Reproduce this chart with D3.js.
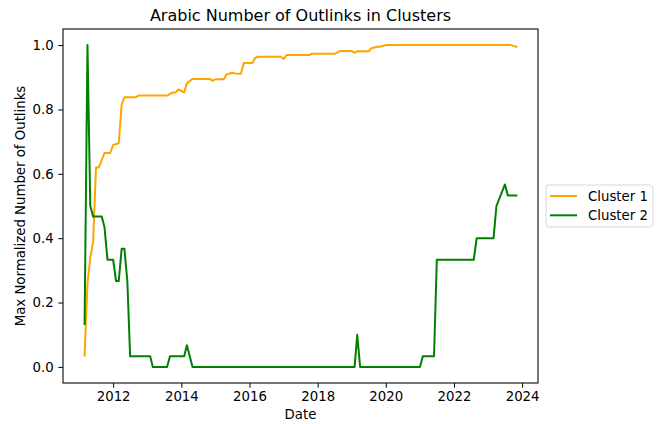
<!DOCTYPE html>
<html>
<head>
<meta charset="utf-8">
<script src="https://cdn.jsdelivr.net/npm/d3@7"></script>
<style>
  body { margin: 0; background: #fff; }
  text { font-family: "DejaVu Sans", sans-serif; fill: #000; }
</style>
</head>
<body>
<div id="chart"></div>
<script>
// Measurement
var w = 660, h = 424;
var margin = { top: 29, right: 122, bottom: 41, left: 63 };

// Data (monthly breakpoints)
var c1Dates = ["2011-03","2011-04","2011-05","2011-06","2011-07","2011-08","2011-10","2011-12",
  "2012-01","2012-03","2012-04","2012-05","2012-09","2012-10","2013-08","2013-10","2013-11","2013-12",
  "2014-02","2014-03","2014-05","2014-11","2014-12","2015-01","2015-04","2015-05","2015-07","2015-08",
  "2015-10","2015-11","2016-02","2016-03","2016-04","2016-12","2017-01","2017-02","2017-10","2017-11",
  "2018-07","2018-09","2019-01","2019-02","2019-03","2019-07","2019-08","2019-10","2019-11","2020-01",
  "2023-09","2023-11"];
var c1Values = [0.035,0.26,0.34,0.39,0.62,0.62,0.665,0.665,
  0.69,0.695,0.814,0.838,0.838,0.843,0.843,0.853,0.853,0.862,
  0.853,0.881,0.895,0.895,0.889,0.894,0.894,0.909,0.914,0.912,
  0.911,0.944,0.944,0.96,0.964,0.964,0.957,0.969,0.969,0.973,
  0.973,0.982,0.982,0.976,0.981,0.981,0.99,0.995,0.995,1.0,
  1.0,0.995];

var c2Dates = ["2011-03","2011-04","2011-05","2011-06","2011-09","2011-10","2011-11","2012-01",
  "2012-02","2012-03","2012-04","2012-05","2012-06","2012-07","2013-02","2013-03","2013-08","2013-09",
  "2014-02","2014-03","2014-05","2019-02","2019-03","2019-04","2021-01","2021-02","2021-06","2021-07",
  "2022-08","2022-09","2023-03","2023-04","2023-07","2023-08","2023-11"];
var c2Values = [0.133,1.0,0.5,0.467,0.467,0.433,0.333,0.333,
  0.267,0.267,0.367,0.367,0.267,0.033,0.033,0,0,0.033,
  0.033,0.067,0,0,0.1,0,0,0.033,0.033,0.333,
  0.333,0.4,0.4,0.5,0.567,0.533,0.533];

var seriesNames = ["Cluster 1", "Cluster 2"];
var seriesColors = ["orange", "green"];
var xTickYears = [2012, 2014, 2016, 2018, 2020, 2022, 2024];
var yTickValues = [0, 0.2, 0.4, 0.6, 0.8, 1.0];

var parseMonth = d3.timeParse("%Y-%m");
function zipSeries(dates, values) {
  return dates.map(function(d, i) { return { date: parseMonth(d), value: values[i] }; });
}
var series = [zipSeries(c1Dates, c1Values), zipSeries(c2Dates, c2Values)];

// SVG Container
var svg = d3.select("#chart")
  .append("svg")
  .attr("width", w)
  .attr("height", h);

// Scaling (matplotlib-like 5% margins)
var allDates = series[0].concat(series[1]).map(function(d) { return d.date; });
var t0 = d3.min(allDates).getTime(), t1 = d3.max(allDates).getTime();
var pad = (t1 - t0) * 0.05;
var xScale = d3.scaleTime()
  .domain([new Date(t0 - pad), new Date(t1 + pad)])
  .range([margin.left, w - margin.right]);
var yScale = d3.scaleLinear()
  .domain([-0.05, 1.05])
  .range([h - margin.bottom, margin.top]);

// Axis
var xAxis = d3.axisBottom(xScale)
  .tickValues(xTickYears.map(function(y) { return new Date(y, 0, 1); }))
  .tickFormat(d3.timeFormat("%Y"))
  .tickSizeInner(4.7)
  .tickSizeOuter(0)
  .tickPadding(4);
var yAxis = d3.axisLeft(yScale)
  .tickValues(yTickValues)
  .tickFormat(d3.format(".1f"))
  .tickSizeInner(4.7)
  .tickSizeOuter(0)
  .tickPadding(4.7);

var gx = svg.append("g")
  .attr("transform", "translate(0," + (h - margin.bottom) + ")")
  .call(xAxis);
var gy = svg.append("g")
  .attr("transform", "translate(" + margin.left + ",0)")
  .call(yAxis);
[gx, gy].forEach(function(g) {
  g.select(".domain").remove();
  g.selectAll(".tick line").attr("stroke", "#000").attr("stroke-width", 1);
  g.selectAll(".tick text").attr("font-size", 13.3).attr("font-family", "DejaVu Sans").attr("fill", "#000");
});

// Lines
var line = d3.line()
  .x(function(d) { return xScale(d.date); })
  .y(function(d) { return yScale(d.value); });

svg.selectAll(".series")
  .data(series)
  .enter()
  .append("path")
  .attr("class", "series")
  .attr("d", line)
  .attr("fill", "none")
  .attr("stroke", function(d, i) { return seriesColors[i]; })
  .attr("stroke-width", 2)
  .attr("stroke-linejoin", "round")
  .attr("stroke-linecap", "square");

// Frame
svg.append("rect")
  .attr("x", margin.left)
  .attr("y", margin.top)
  .attr("width", w - margin.left - margin.right)
  .attr("height", h - margin.top - margin.bottom)
  .attr("fill", "none")
  .attr("stroke", "#000")
  .attr("stroke-width", 1.07);

// Titles
var cx = (margin.left + w - margin.right) / 2;
svg.append("text")
  .attr("x", cx)
  .attr("y", 21)
  .attr("text-anchor", "middle")
  .attr("font-size", 16)
  .text("Arabic Number of Outlinks in Clusters");

svg.append("text")
  .attr("x", cx)
  .attr("y", 419)
  .attr("text-anchor", "middle")
  .attr("font-size", 13.3)
  .text("Date");

svg.append("text")
  .attr("transform", "translate(25," + ((margin.top + h - margin.bottom) / 2) + ") rotate(-90)")
  .attr("text-anchor", "middle")
  .attr("font-size", 13.3)
  .text("Max Normalized Number of Outlinks");

// Legend
var legend = svg.append("g").attr("transform", "translate(546,185)");
legend.append("rect")
  .attr("width", 107)
  .attr("height", 42)
  .attr("rx", 3)
  .attr("fill", "#fff")
  .attr("fill-opacity", 0.8)
  .attr("stroke", "#d6d6d6")
  .attr("stroke-width", 1);

var items = legend.selectAll(".item")
  .data(seriesNames)
  .enter()
  .append("g")
  .attr("class", "item")
  .attr("transform", function(d, i) { return "translate(0," + (11 + i * 19.3) + ")"; });
items.append("line")
  .attr("x1", 4).attr("x2", 31)
  .attr("stroke", function(d, i) { return seriesColors[i]; })
  .attr("stroke-width", 2);
items.append("text")
  .attr("x", 42)
  .attr("dy", "0.35em")
  .attr("font-size", 13.3)
  .text(function(d) { return d; });
</script>
</body>
</html>
